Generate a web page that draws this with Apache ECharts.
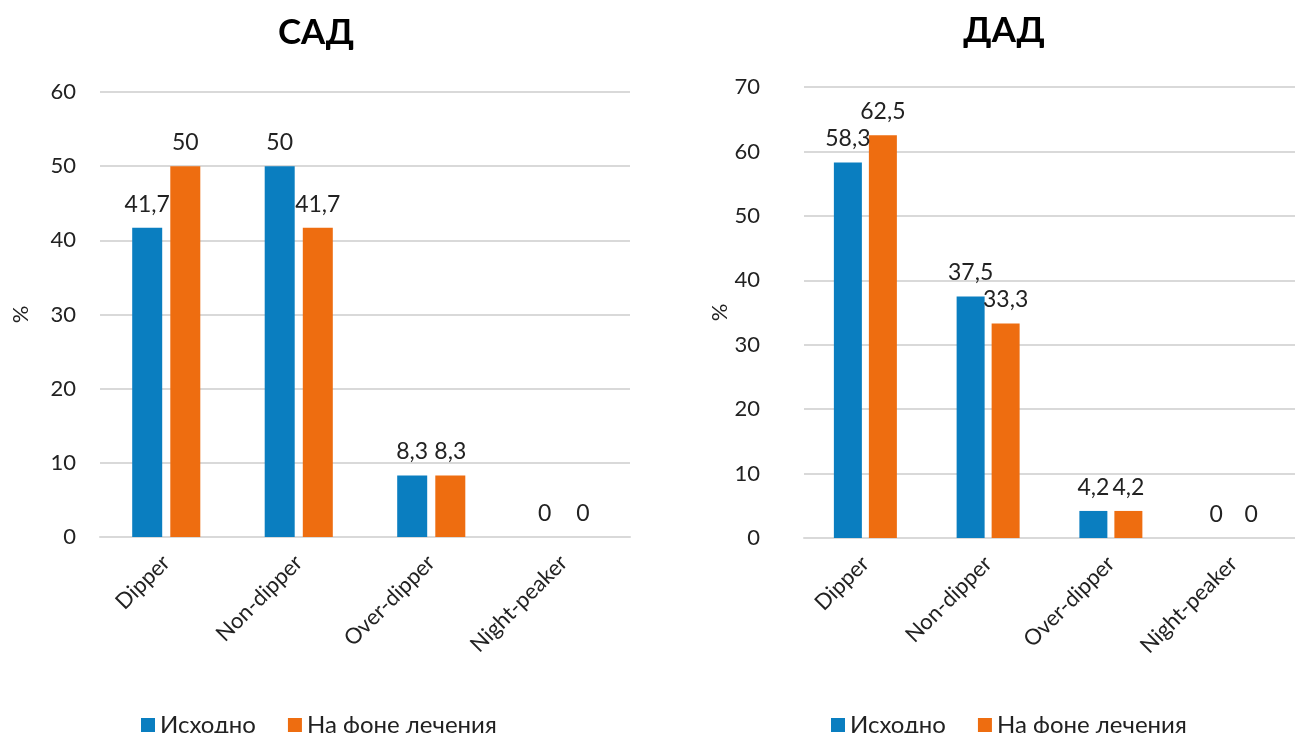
<!DOCTYPE html>
<html><head><meta charset="utf-8">
<script src="https://cdn.jsdelivr.net/npm/echarts@6/dist/echarts.min.js"></script>
<style>html,body{margin:0;padding:0;background:#fff}#c{width:1295px;height:733px}</style>
</head><body><div id="c"></div>
<script>
const categories = ['Dipper', 'Non-dipper', 'Over-dipper', 'Night-peaker'];
const seriesNames = ['Исходно', 'На фоне лечения'];
const sadBaseline = [41.7, 50, 8.3, 0];
const sadTreatment = [50, 41.7, 8.3, 0];
const dadBaseline = [58.3, 37.5, 4.2, 0];
const dadTreatment = [62.5, 33.3, 4.2, 0];
const titles = ['САД', 'ДАД'];

const FONT = 'Lato';
const BLUE = '#0A7EC0';
const ORANGE = '#EE6D10';
const fmt = p => String(p.value).replace('.', ',');

function bar(name, data, idx, color, width, gap) {
  return {
    name, type: 'bar', data, xAxisIndex: idx, yAxisIndex: idx,
    barWidth: width, barGap: gap,
    itemStyle: { color },
    label: { show: true, position: 'top', distance: 12, formatter: fmt,
             fontFamily: FONT, fontSize: 23, color: '#222' }
  };
}
function yAx(idx, max, margin, gap) {
  return {
    type: 'value', gridIndex: idx, min: 0, max, interval: 10,
    name: '%', nameLocation: 'middle', nameRotate: 90, nameGap: gap,
    nameTextStyle: { fontFamily: FONT, fontSize: 22, color: '#222' },
    axisLabel: { fontFamily: FONT, fontSize: 22, color: '#222', margin },
    splitLine: { lineStyle: { color: '#D9D9D9', width: 2 } },
    axisLine: { show: false }, axisTick: { show: false }
  };
}
function xAx(idx) {
  return {
    type: 'category', gridIndex: idx, data: categories,
    axisLine: { show: true, lineStyle: { color: '#D9D9D9', width: 2 } },
    axisTick: { show: false },
    axisLabel: { rotate: 45, fontFamily: FONT, fontSize: 22, color: '#222', margin: 22 }
  };
}
function legend(left) {
  return {
    data: seriesNames, left, top: 708, itemWidth: 14, itemHeight: 14, itemGap: 32,
    icon: 'rect', textStyle: { fontFamily: FONT, fontSize: 24, color: '#222' }
  };
}

const chart = echarts.init(document.getElementById('c'));
chart.setOption({
  animation: false,
  title: [
    { text: titles[0], left: 311, top: 10, textAlign: 'center',
      textStyle: { fontFamily: FONT, fontSize: 35, fontWeight: 'bold', color: '#000' } },
    { text: titles[1], left: 999, top: 8, textAlign: 'center',
      textStyle: { fontFamily: FONT, fontSize: 35, fontWeight: 'bold', color: '#000' } }
  ],
  legend: [legend(136), legend(826)],
  grid: [
    { left: 100, right: 665, top: 92, bottom: 196 },
    { left: 804, right: -9, top: 87, bottom: 195 }
  ],
  xAxis: [xAx(0), xAx(1)],
  yAxis: [yAx(0, 60, 24, 68), yAx(1, 70, 44, 68)],
  series: [
    bar(seriesNames[0], sadBaseline, 0, BLUE, 30, '27%'),
    bar(seriesNames[1], sadTreatment, 0, ORANGE, 30, '27%'),
    bar(seriesNames[0], dadBaseline, 1, BLUE, 28, '25%'),
    bar(seriesNames[1], dadTreatment, 1, ORANGE, 28, '25%')
  ]
});
</script></body></html>
